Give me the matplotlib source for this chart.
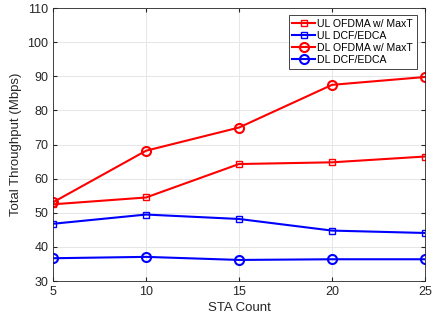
import matplotlib
matplotlib.use('Agg')
import matplotlib.pyplot as plt

plt.rcParams['font.family'] = ['Liberation Sans', 'DejaVu Sans']

staCount = [5, 10, 15, 20, 25]
ulOfdma = [52.5, 54.5, 64.3, 64.8, 66.5]
ulDcf = [46.8, 49.5, 48.2, 44.8, 44.1]
dlOfdma = [53.1, 68.2, 75.0, 87.5, 89.8]
dlDcf = [36.7, 37.1, 36.2, 36.4, 36.4]
labels = ['UL OFDMA w/ MaxT', 'UL DCF/EDCA', 'DL OFDMA w/ MaxT', 'DL DCF/EDCA']

fig = plt.figure(figsize=(4.35, 3.22), dpi=100)
ax = fig.add_axes([0.122, 0.127, 0.855, 0.848])

ax.plot(staCount, ulOfdma, color='#ff0000', marker='s', ms=5, mfc='none', mew=1, lw=1.5, label=labels[0])
ax.plot(staCount, ulDcf, color='#0000ff', marker='s', ms=5, mfc='none', mew=1, lw=1.5, label=labels[1])
ax.plot(staCount, dlOfdma, color='#ff0000', marker='o', ms=6.5, mfc='none', mew=1.5, lw=1.5, label=labels[2])
ax.plot(staCount, dlDcf, color='#0000ff', marker='o', ms=6.5, mfc='none', mew=1.5, lw=1.5, label=labels[3])

ax.set_xlim(5, 25)
ax.set_ylim(30, 110)
ax.set_xticks(staCount)
ax.set_yticks(range(30, 111, 10))
ax.grid(True, color='#e6e6e6', lw=0.7)
ax.set_axisbelow(True)
ax.tick_params(direction='in', top=True, right=True, labelsize=9, colors='#262626', length=3)
for s in ax.spines.values():
    s.set_color('#262626')
    s.set_linewidth(0.6)

ax.set_xlabel('STA Count', fontsize=9.5, color='#262626', labelpad=3)
ax.set_ylabel('Total Throughput (Mbps)', fontsize=9.5, color='#262626', labelpad=4)

leg = ax.legend(loc='upper right', bbox_to_anchor=(0.978, 0.975), fontsize=7.6, fancybox=False,
                edgecolor='#262626', framealpha=1, handlelength=2.1, borderpad=0.35,
                labelspacing=0.2, handletextpad=0.25, borderaxespad=0)
leg.get_frame().set_linewidth(0.6)

fig.savefig('out.png', dpi=100)
